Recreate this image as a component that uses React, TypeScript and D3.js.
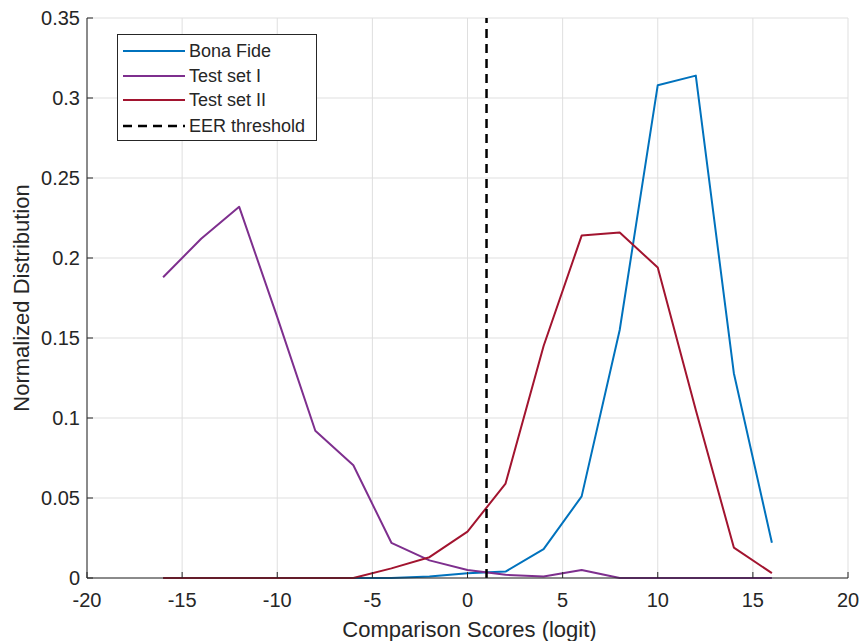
import React from "react";
import * as d3 from "d3";

const xs = [-16, -14, -12, -10, -8, -6, -4, -2, 0, 2, 4, 6, 8, 10, 12, 14, 16];
const bonaFide = [0, 0, 0, 0, 0, 0, 0, 0.001, 0.003, 0.004, 0.018, 0.051, 0.155, 0.308, 0.314, 0.128, 0.022];
const testSet1 = [0.188, 0.212, 0.232, 0.163, 0.092, 0.0705, 0.022, 0.011, 0.005, 0.002, 0.001, 0.005, 0, 0, 0, 0, 0];
const testSet2 = [0, 0, 0, 0, 0, 0, 0.006, 0.013, 0.029, 0.059, 0.145, 0.214, 0.216, 0.194, 0.105, 0.019, 0.003];
const eerThreshold = 1;
const xTicks = [-20, -15, -10, -5, 0, 5, 10, 15, 20];
const yTicks = [0, 0.05, 0.1, 0.15, 0.2, 0.25, 0.3, 0.35];
const seriesNames = ["Bona Fide", "Test set I", "Test set II", "EER threshold"];
const seriesColors = ["#0072BD", "#7E2F8E", "#A2142F", "#000000"];

const W = 861, H = 641;
const M = { left: 87, right: 13, top: 18, bottom: 63 };

export default function App() {
  const x = d3.scaleLinear().domain([-20, 20]).range([M.left, W - M.right]);
  const y = d3.scaleLinear().domain([0, 0.35]).range([H - M.bottom, M.top]);
  const line = d3.line<number>().x((_, i) => x(xs[i])).y((d) => y(d));
  const series = [bonaFide, testSet1, testSet2];
  const font = "'Liberation Sans', Arial, Helvetica, sans-serif";
  const txt = "#262626";
  const legendY = [51, 76, 100, 126];
  return (
    <svg width={W} height={H} style={{ position: "absolute", left: 0, top: 0 }} fontFamily={font}>
      <rect width={W} height={H} fill="#fff" />
      {xTicks.map((t) => (
        <line key={"gx" + t} x1={x(t)} x2={x(t)} y1={y(0)} y2={y(0.35)} stroke="#dfdfdf" strokeWidth={1} />
      ))}
      {yTicks.map((t) => (
        <line key={"gy" + t} x1={x(-20)} x2={x(20)} y1={y(t)} y2={y(t)} stroke="#dfdfdf" strokeWidth={1} />
      ))}
      {series.map((s, i) => (
        <path key={i} d={line(s) || ""} fill="none" stroke={seriesColors[i]} strokeWidth={2} strokeLinejoin="round" />
      ))}
      <line x1={x(eerThreshold)} x2={x(eerThreshold)} y1={y(0)} y2={y(0.35)} stroke="#000" strokeWidth={2.5} strokeDasharray="9,6" />
      {/* axes */}
      <line x1={x(-20)} x2={x(20)} y1={y(0)} y2={y(0)} stroke={txt} strokeWidth={1} />
      <line x1={x(-20)} x2={x(-20)} y1={y(0)} y2={y(0.35)} stroke={txt} strokeWidth={1} />
      {xTicks.map((t) => (
        <g key={"tx" + t}>
          <line x1={x(t)} x2={x(t)} y1={y(0)} y2={y(0) - 6} stroke={txt} />
          <text x={x(t)} y={y(0) + 29} textAnchor="middle" fontSize={20} fill={txt}>{t}</text>
        </g>
      ))}
      {yTicks.map((t) => (
        <g key={"ty" + t}>
          <line x1={x(-20)} x2={x(-20) + 6} y1={y(t)} y2={y(t)} stroke={txt} />
          <text x={x(-20) - 7} y={y(t) + 7} textAnchor="end" fontSize={20} fill={txt}>{t}</text>
        </g>
      ))}
      <text x={(x(0) + 2)} y={637} textAnchor="middle" fontSize={22} fill={txt}>Comparison Scores (logit)</text>
      <text transform={`translate(29,${(y(0) + y(0.35)) / 2}) rotate(-90)`} textAnchor="middle" fontSize={22} fill={txt}>Normalized Distribution</text>
      {/* legend */}
      <rect x={117.5} y={34.5} width={199} height={106} fill="#fff" stroke={txt} strokeWidth={1} />
      {seriesNames.map((n, i) => (
        <g key={n}>
          <line x1={123} x2={185} y1={legendY[i]} y2={legendY[i]} stroke={seriesColors[i]} strokeWidth={i === 3 ? 2.5 : 2} strokeDasharray={i === 3 ? "9,6" : undefined} />
          <text x={189} y={legendY[i] + 6} fontSize={18} fill={txt}>{n}</text>
        </g>
      ))}
    </svg>
  );
}
